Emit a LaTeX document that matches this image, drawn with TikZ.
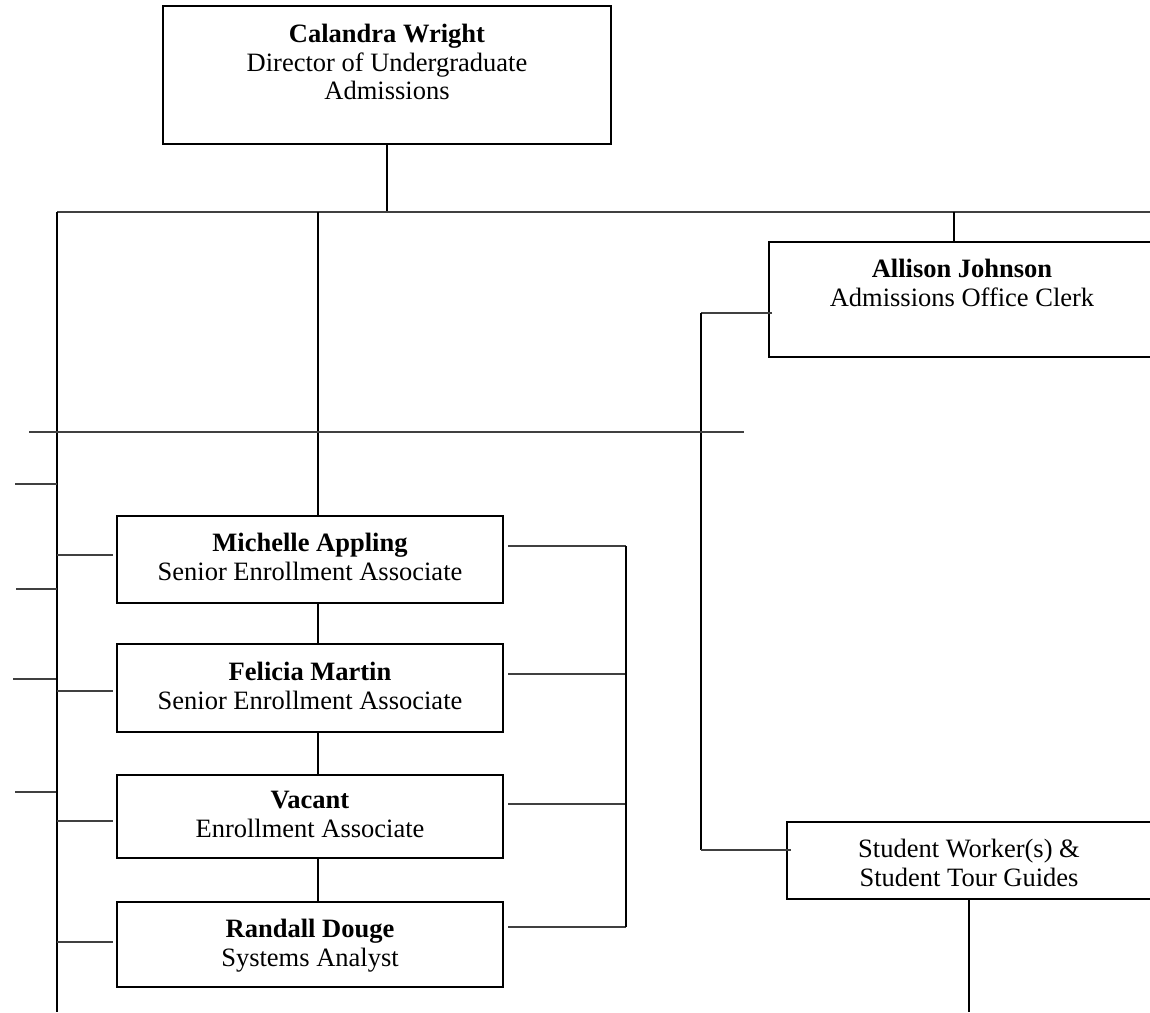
\documentclass[tikz,border=0pt]{standalone}
\usepackage{fontspec}
\setmainfont{Liberation Serif}
\usetikzlibrary{calc}
\begin{document}
\begin{tikzpicture}[x=1pt,y=-1pt,
  box/.style={draw=black, line width=1.2pt, rectangle, inner sep=0pt, fill=none},
  txt/.style={align=center, inner sep=0pt, anchor=north, font=\fontsize{26.5}{28.5}\selectfont},
  vline/.style={draw=black, line width=1.4pt},
  hline/.style={draw=black!75, line width=1.4pt}]
\useasboundingbox (0,0) rectangle (1150,1012);
\clip (0,0) rectangle (1150,1012);
\fill[white] (0,0) rectangle (1150,1012);

% boxes
\node[box, minimum width=448pt, minimum height=138pt] (cw) at (387,75) {};
\node[box, minimum width=386pt, minimum height=115pt] (aj) at (962,299.5) {};
\node[box, minimum width=386pt, minimum height=87pt] (ma) at (310,559.5) {};
\node[box, minimum width=386pt, minimum height=88pt] (fm) at (310,688) {};
\node[box, minimum width=386pt, minimum height=83pt] (va) at (310,816.5) {};
\node[box, minimum width=386pt, minimum height=85pt] (rd) at (310,944.5) {};
\node[box, minimum width=364pt, minimum height=77pt] (sw) at (969,860.5) {};

% texts
\node[txt] (cwt) at (387,24) {\textbf{Calandra Wright}\\Director of Undergraduate\\Admissions};
\node[txt] (ajt) at (962,259) {\textbf{Allison Johnson}\\Admissions Office Clerk};
\node[txt] (mat) at (310,533) {\textbf{Michelle Appling}\\Senior Enrollment Associate};
\node[txt] (fmt) at (310,662) {\textbf{Felicia Martin}\\Senior Enrollment Associate};
\node[txt] (vat) at (310,791) {\textbf{Vacant}\\Enrollment Associate};
\node[txt] (rdt) at (310,919) {\textbf{Randall Douge}\\Systems Analyst};
\node[txt] (swt) at (969,839) {Student Worker(s) \&\\Student Tour Guides};

% coordinates
\coordinate (busL) at (57,212);
\coordinate (busR) at (1150,212);
\coordinate (leftEnd) at (57,1012);
\coordinate (spine) at (318,212);
\coordinate (ajTop) at (954,212);
\coordinate (ajStub) at (772,313);
\coordinate (cA) at (701,313);
\coordinate (cB) at (701,850);
\coordinate (swStub) at (791,850);
\coordinate (h2L) at (29,432);
\coordinate (h2R) at (744,432);
\coordinate (rbTop) at (626,546);
\coordinate (rbBot) at (626,927);

% main connectors
\draw[vline] (cw.south) -- (cw.south |- busL);
\draw[hline] (busL) -- (busR);
\draw[vline] (busL) -- (leftEnd);
\draw[vline] (spine) -- (spine |- ma.north);
\draw[vline] (ma.south -| spine) -- (fm.north -| spine);
\draw[vline] (fm.south -| spine) -- (va.north -| spine);
\draw[vline] (va.south -| spine) -- (rd.north -| spine);
\draw[vline] (ajTop) -- (ajTop |- aj.north);
\draw[hline] (ajStub) -- (cA);
\draw[vline] (cA) -- (cB);
\draw[hline] (cB) -- (swStub);
\draw[vline] (sw.south) -- (sw.south |- leftEnd);
\draw[hline] (h2L) -- (h2R);

% left stubs
\draw[hline] (15,484) -- (57,484);
\draw[hline] (16,589) -- (57,589);
\draw[hline] (13,679) -- (56,679);
\draw[hline] (15,792) -- (56,792);

% left connectors to boxes
\draw[hline] (57,555) -- (113,555);
\draw[hline] (57,691) -- (113,691);
\draw[hline] (57,821) -- (113,821);
\draw[hline] (57,942) -- (113,942);

% right bracket
\draw[hline] (508,546) -- (rbTop);
\draw[hline] (508,674) -- (626,674);
\draw[hline] (508,804) -- (626,804);
\draw[hline] (508,927) -- (rbBot);
\draw[vline] (rbTop) -- (rbBot);
\end{tikzpicture}
\end{document}
